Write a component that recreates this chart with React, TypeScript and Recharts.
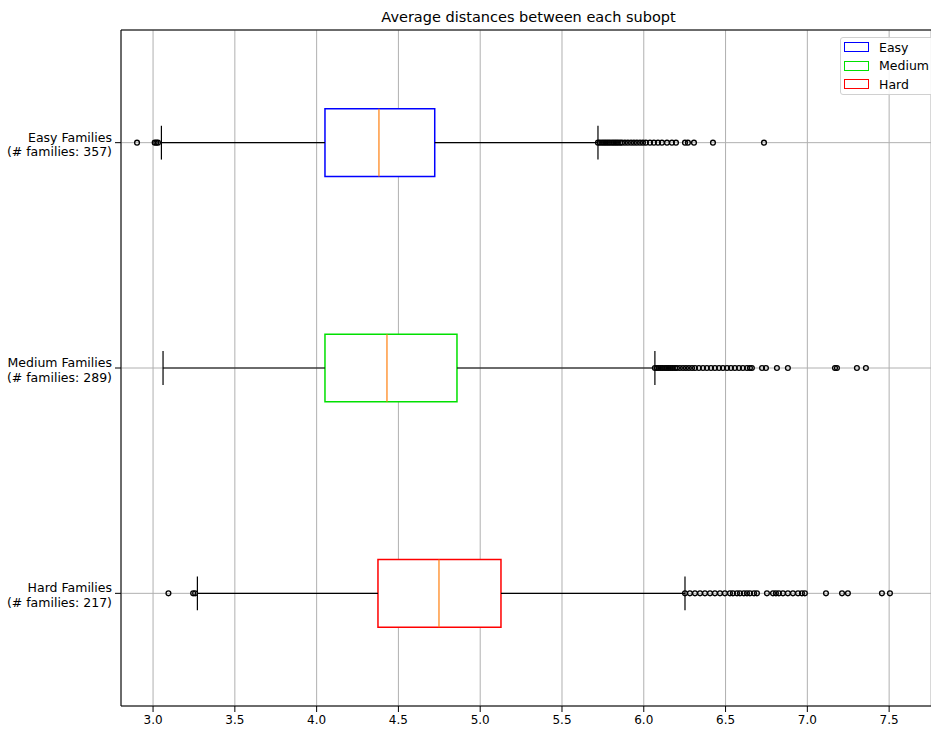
import React from 'react';
import {
  ComposedChart, XAxis, YAxis, CartesianGrid, Scatter, ReferenceArea, ReferenceLine,
} from 'recharts';

const categories = ['Easy', 'Medium', 'Hard'];
const labelLines = ['Easy Families', 'Medium Families', 'Hard Families'];
const familyCounts = [357, 289, 217];
const boxColors = ['#0000ff', '#00e000', '#ff0000'];
const positions = [1, 2, 3];

const whiskerLow = [3.051, 3.061, 3.271];
const q1 = [4.051, 4.051, 4.375];
const median = [4.381, 4.43, 4.748];
const q3 = [4.722, 4.858, 5.127];
const whiskerHigh = [5.72, 6.068, 6.252];

const easyOutliers = [
  2.902, 3.01, 3.02, 3.03,
  5.72, 5.732, 5.745, 5.757, 5.769, 5.781, 5.793, 5.806, 5.818, 5.83, 5.842, 5.855, 5.867,
  5.885, 5.903, 5.922, 5.94, 5.958, 5.977, 5.995, 6.013, 6.038, 6.062, 6.087, 6.111, 6.142,
  6.172, 6.197, 6.252, 6.27, 6.307, 6.423, 6.735,
];
const mediumOutliers = [
  6.068, 6.081, 6.093, 6.105, 6.117, 6.13, 6.142, 6.154, 6.166, 6.178, 6.191, 6.203, 6.221,
  6.24, 6.258, 6.276, 6.295, 6.313, 6.337, 6.362, 6.386, 6.411, 6.435, 6.46, 6.484, 6.509,
  6.533, 6.557, 6.582, 6.606, 6.631, 6.649, 6.661, 6.723, 6.747, 6.814, 6.881, 7.169, 7.181,
  7.303, 7.358,
];
const hardOutliers = [
  3.094, 3.245, 3.257,
  6.252, 6.282, 6.313, 6.344, 6.374, 6.405, 6.435, 6.466, 6.496, 6.527, 6.545, 6.57, 6.588,
  6.612, 6.631, 6.649, 6.674, 6.692, 6.753, 6.79, 6.808, 6.826, 6.851, 6.881, 6.912, 6.943,
  6.967, 6.985, 7.114, 7.212, 7.248, 7.456, 7.505,
];
const outlierGroups = [easyOutliers, mediumOutliers, hardOutliers];

const xTicks = [3.0, 3.5, 4.0, 4.5, 5.0, 5.5, 6.0, 6.5, 7.0, 7.5];
const xDomain = [2.804, 7.756];
const title = 'Average distances between each subopt';

const FONT = '"DejaVu Sans", sans-serif';
const BOX_HALF = 0.15;
const CAP_HALF = 0.075;

const outlierData = outlierGroups.flatMap((vals, i) => vals.map((v) => ({ x: v, y: positions[i] })));

const YTick = (props: any) => {
  const { x, y, payload } = props;
  const i = positions.indexOf(payload.value);
  if (i < 0) return null;
  return (
    <text x={x} y={y} textAnchor="end" fontSize={12.5} fontFamily={FONT} fill="#000">
      <tspan x={x} dy={-1}>{labelLines[i]}</tspan>
      <tspan x={x} dy={14.5}>{`(# families: ${familyCounts[i]})`}</tspan>
    </text>
  );
};

const OutlierShape = (props: any) => (
  <circle cx={props.cx} cy={props.cy} r={2.4} fill="none" stroke="#000" strokeWidth={1.3} />
);

const LegendBox = () => (
  <div
    style={{
      position: 'absolute', left: 840, top: 37, width: 95, height: 58,
      border: '1px solid #d0d0d0', borderRadius: 3, background: 'rgba(255,255,255,0.85)',
      padding: '0 0 0 3px', fontFamily: FONT, fontSize: 12.5, boxSizing: 'border-box', textAlign: 'left',
    }}
  >
    {categories.map((c, i) => (
      <div key={c} style={{ display: 'flex', alignItems: 'center', height: 18.5 }}>
        <div style={{ width: 23, height: 8, border: `1.5px solid ${boxColors[i]}`, marginRight: 10 }} />
        <span>{c}</span>
      </div>
    ))}
  </div>
);

export default function App() {
  return (
    <div style={{ position: 'absolute', left: 0, top: 0, width: 931, height: 729, background: '#fff', overflow: 'hidden' }}>
      <div
        style={{
          position: 'absolute', left: 0, width: 1057, top: 8, textAlign: 'center',
          fontFamily: FONT, fontSize: 14.5, color: '#000', lineHeight: '18px',
        }}
      >
        {title}
      </div>
      <ComposedChart width={931} height={729} margin={{ top: 30, right: 0, left: 0, bottom: 0 }}>
        <CartesianGrid stroke="#b0b0b0" strokeWidth={1} />
        <XAxis
          type="number"
          dataKey="x"
          domain={xDomain}
          allowDataOverflow
          ticks={xTicks}
          tickFormatter={(v: number) => v.toFixed(1)}
          height={23}
          tickSize={6}
          tickMargin={3}
          stroke="#000"
          tick={{ fill: '#000', fontSize: 12, fontFamily: FONT }}
        />
        <YAxis
          type="number"
          dataKey="y"
          domain={[0.5, 3.5]}
          reversed
          ticks={positions}
          width={121}
          tickSize={6}
          tickMargin={3}
          stroke="#000"
          tick={<YTick />}
        />
        <ReferenceLine y={0.5} stroke="#000" strokeWidth={1} />
        {positions.map((p, i) => (
          <React.Fragment key={categories[i]}>
            <ReferenceLine segment={[{ x: whiskerLow[i], y: p }, { x: q1[i], y: p }]} stroke="#000" strokeWidth={1.2} />
            <ReferenceLine segment={[{ x: q3[i], y: p }, { x: whiskerHigh[i], y: p }]} stroke="#000" strokeWidth={1.2} />
            <ReferenceLine segment={[{ x: whiskerLow[i], y: p - CAP_HALF }, { x: whiskerLow[i], y: p + CAP_HALF }]} stroke="#000" strokeWidth={1.2} />
            <ReferenceLine segment={[{ x: whiskerHigh[i], y: p - CAP_HALF }, { x: whiskerHigh[i], y: p + CAP_HALF }]} stroke="#000" strokeWidth={1.2} />
            <ReferenceArea x1={q1[i]} x2={q3[i]} y1={p - BOX_HALF} y2={p + BOX_HALF} fill="#fff" fillOpacity={1} stroke={boxColors[i]} strokeWidth={1.5} strokeOpacity={1} />
            <ReferenceLine segment={[{ x: median[i], y: p - BOX_HALF }, { x: median[i], y: p + BOX_HALF }]} stroke="#ff7f0e" strokeWidth={1.2} />
          </React.Fragment>
        ))}
        <Scatter data={outlierData} dataKey="y" isAnimationActive={false} shape={<OutlierShape />} />
      </ComposedChart>
      <LegendBox />
    </div>
  );
}
